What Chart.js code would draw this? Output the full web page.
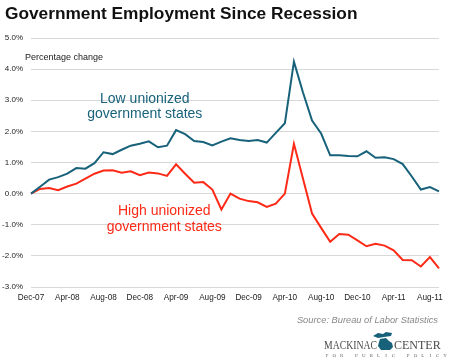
<!DOCTYPE html>
<html><head><meta charset="utf-8">
<script src="https://cdn.jsdelivr.net/npm/chart.js@4/dist/chart.umd.min.js"></script>
<style>html,body{margin:0;padding:0;background:#fff}#wrap{width:450px;height:360px;position:relative}</style>
</head><body><div id="wrap"><canvas id="c" width="450" height="360"></canvas></div>
<script>
const months = ['Dec-07',
 'Jan-08','Feb-08','Mar-08','Apr-08','May-08','Jun-08','Jul-08','Aug-08','Sep-08','Oct-08','Nov-08','Dec-08',
 'Jan-09','Feb-09','Mar-09','Apr-09','May-09','Jun-09','Jul-09','Aug-09','Sep-09','Oct-09','Nov-09','Dec-09',
 'Jan-10','Feb-10','Mar-10','Apr-10','May-10','Jun-10','Jul-10','Aug-10','Sep-10','Oct-10','Nov-10','Dec-10',
 'Jan-11','Feb-11','Mar-11','Apr-11','May-11','Jun-11','Jul-11','Aug-11','Sep-11'];
const tickLabels = ['Dec-07','Apr-08','Aug-08','Dec-08','Apr-09','Aug-09','Dec-09','Apr-10','Aug-10','Dec-10','Apr-11','Aug-11'];
const lowUnionized = [0.00,0.22,0.45,0.53,0.64,0.82,0.80,0.98,1.33,1.27,1.41,1.54,1.60,1.68,1.49,1.54,
 2.04,1.91,1.69,1.66,1.55,1.67,1.78,1.72,1.69,1.72,1.64,1.95,2.26,4.24,3.25,2.35,1.93,1.23,1.23,1.21,
 1.20,1.36,1.15,1.17,1.11,0.95,0.55,0.13,0.21,0.07];
const highUnionized = [0.00,0.15,0.18,0.11,0.23,0.32,0.48,0.64,0.74,0.75,0.67,0.72,0.59,0.68,0.65,0.57,
 0.94,0.64,0.35,0.37,0.13,-0.51,0.00,-0.16,-0.24,-0.28,-0.43,-0.32,0.00,1.60,0.48,-0.64,-1.10,-1.55,-1.30,-1.32,
 -1.50,-1.69,-1.61,-1.67,-1.82,-2.13,-2.14,-2.34,-2.04,-2.40];
const yMin = -3, yMax = 5, yStep = 1;

const TEAL = '#17627a', RED = '#fc2a17';
const SANS = '"Liberation Sans", Arial, Helvetica, sans-serif';
const SERIF = '"Liberation Serif", "DejaVu Serif", serif';

const textPlugin = {
  id: 'texts',
  afterDraw(chart) {
    const ctx = chart.ctx, xs = chart.scales.x, ys = chart.scales.y;
    ctx.save();
    // title
    ctx.fillStyle = '#111';
    ctx.font = 'bold 17.3px ' + SANS;
    ctx.textAlign = 'left'; ctx.textBaseline = 'alphabetic';
    ctx.fillText('Government Employment Since Recession', 5, 19);
    // axis caption
    ctx.fillStyle = '#222';
    ctx.font = '9px ' + SANS;
    ctx.fillText('Percentage change', 25, 60);
    // series labels anchored in data space
    ctx.textAlign = 'center'; ctx.textBaseline = 'middle';
    ctx.font = '14px ' + SANS;
    ctx.fillStyle = TEAL;
    const tx = xs.getPixelForValue(12.55);
    ctx.fillText('Low unionized', tx, ys.getPixelForValue(3.05));
    ctx.fillText('government states', tx, ys.getPixelForValue(2.54));
    ctx.fillStyle = RED;
    const rx = xs.getPixelForValue(14.7);
    ctx.fillText('High unionized', rx, ys.getPixelForValue(-0.57));
    ctx.fillText('government states', rx, ys.getPixelForValue(-1.08));
    // source
    ctx.textAlign = 'right'; ctx.textBaseline = 'alphabetic';
    ctx.fillStyle = '#888';
    ctx.font = 'italic 9.3px ' + SANS;
    ctx.fillText('Source: Bureau of Labor Statistics', 438, 323);
    // logo
    ctx.textAlign = 'left';
    ctx.fillStyle = '#4a4a4a';
    ctx.font = '12px ' + SERIF;
    ctx.fillText('MACKINAC', 324, 349, 53);
    ctx.fillText('CENTER', 394, 349, 51);
    ctx.fillStyle = TEAL;
    ctx.beginPath();
    // upper peninsula
    ctx.moveTo(373, 336); ctx.lineTo(378, 333); ctx.lineTo(383, 334); ctx.lineTo(386, 332);
    ctx.lineTo(392, 333); ctx.lineTo(391, 336); ctx.lineTo(384, 337); ctx.lineTo(378, 338); ctx.closePath();
    ctx.fill();
    ctx.beginPath();
    // lower peninsula
    ctx.moveTo(380, 339); ctx.lineTo(386, 338); ctx.lineTo(389, 341); ctx.lineTo(392, 343);
    ctx.lineTo(393, 347); ctx.lineTo(390, 350); ctx.lineTo(381, 350); ctx.lineTo(378, 346);
    ctx.lineTo(379, 342); ctx.closePath();
    ctx.fill();
    ctx.fillStyle = '#666';
    ctx.font = '5px ' + SERIF;
    const sub = 'FOR PUBLIC POLICY';
    const x0 = 327, x1 = 445;
    const step = (x1 - x0) / (sub.length - 1);
    ctx.textAlign = 'center';
    for (let i = 0; i < sub.length; i++) ctx.fillText(sub[i], x0 + i * step, 357);
    ctx.restore();
  }
};

new Chart(document.getElementById('c'), {
  type: 'line',
  data: {
    labels: months,
    datasets: [
      { label: 'Low unionized government states', data: lowUnionized, borderColor: TEAL, borderWidth: 2, pointRadius: 0, tension: 0, fill: false },
      { label: 'High unionized government states', data: highUnionized, borderColor: RED, borderWidth: 2, pointRadius: 0, tension: 0, fill: false }
    ]
  },
  options: {
    responsive: false, animation: false, devicePixelRatio: 1,
    layout: { padding: { top: 38, right: 11, left: 0, bottom: 0 } },
    plugins: { legend: { display: false }, tooltip: { enabled: false }, title: { display: false } },
    scales: {
      x: {
        grid: { display: false, drawTicks: false },
        border: { display: false },
        afterFit(s) { s.height = 73; },
        ticks: {
          autoSkip: false, maxRotation: 0, minRotation: 0, padding: 6,
          color: '#222', font: { family: SANS, size: 8.2 },
          callback(v, i) { const l = months[i]; return tickLabels.includes(l) ? l : ''; }
        }
      },
      y: {
        min: yMin, max: yMax,
        grid: { color: '#d8d8d8', lineWidth: 1, drawTicks: false },
        border: { display: false },
        afterFit(s) { s.width = 31; },
        ticks: {
          stepSize: yStep, padding: 8, color: '#222', font: { family: SANS, size: 8 },
          callback(v) { return v.toFixed(1) + '%'; }
        }
      }
    }
  },
  plugins: [textPlugin]
});
</script></body></html>
